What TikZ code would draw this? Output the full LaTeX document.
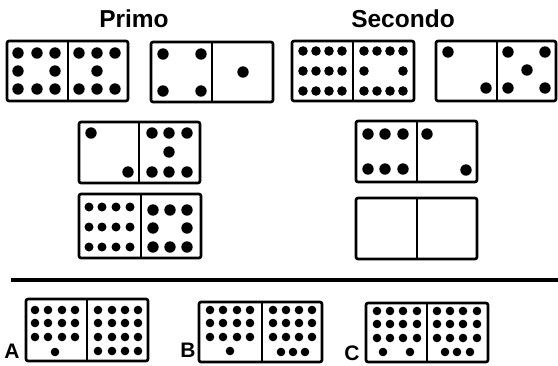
\documentclass[tikz,border=0pt]{standalone}
\usepackage{fontspec}
\setmainfont{Liberation Sans}
\newcommand\mydomino[5]{\draw[frame] (#1,#2) rectangle (#3,#4); \draw[divl] (#5,#2) -- (#5,#4);}
\newcommand\mypips[2]{\foreach \a/\b in {#2} {\fill (\a,\b) circle[radius=#1pt];}}
\begin{document}
\begin{tikzpicture}[x=1pt,y=-1pt,
 frame/.style={draw=black,line width=2.6pt,rounded corners=2pt},
 divl/.style={draw=black,line width=2pt},
 title/.style={font=\bfseries\fontsize{24.5}{24.5}\selectfont,inner sep=0pt},
 lab/.style={font=\bfseries\fontsize{21}{21}\selectfont,inner sep=0pt}]
\useasboundingbox (0,0) rectangle (558,365);
\node[title] (primo) at (134,19) {Primo};
\node[title] (secondo) at (403,19) {Secondo};
% domino 1
\mydomino{7}{41}{128}{101}{68}
\mypips{5.7}{18/53,37/53,55/53,18/71,55/71,18/89,37/89,55/89,
 79/53,97/53,115/53,97/71,79/89,97/89,115/89}
% domino 2
\mydomino{151}{42}{273}{102}{212}
\mypips{5.7}{163/54,201/54,163/91,201/91,243/72}
% domino 3
\mydomino{292}{41}{414}{101}{353}
\mypips{4.8}{303/51,316/51,329/51,342/51,303/71,316/71,329/71,342/71,303/91,316/91,329/91,342/91,
 364/51,377/51,390/51,403/51,364/71,403/71,364/91,377/91,390/91,403/91}
% domino 4
\mydomino{436}{41}{556}{101}{497}
\mypips{5.7}{448/52,486/88,508/52,545/52,527/70,508/88,545/88}
% domino 5
\mydomino{79}{122}{200}{183}{139}
\mypips{5.7}{91/133,128/172,152/133,169/133,187/133,169/152,152/172,169/172,187/172}
% domino 6
\mydomino{79}{194}{201}{258}{141}
\mypips{4.5}{89/207,102/207,116/207,130/207,89/227,102/227,116/227,130/227,89/247,102/247,116/247,130/247}
\mypips{5.7}{153/210,170/210,187/210,153/228,187/228,153/247,170/247,187/247}
% domino 7
\mydomino{356}{121}{477}{182}{417}
\mypips{5.7}{368/134,385/134,403/134,368/169,385/169,403/169,427/134,466/170}
% domino 8
\mydomino{356}{198}{477}{259}{417}
% separator
\coordinate (s1) at (11,280);
\coordinate (s2) at (558,280);
\draw[line width=4.5pt] (s1) -- (s2);
% A
\node[lab] (la) at (12,351) {A};
\mydomino{26}{299}{148}{361}{87}
\mypips{4.3}{35/310,48/310,62/310,75/310,35/323,48/323,62/323,75/323,35/337,48/337,62/337,75/337,55/352,
 98/310,112/310,125/310,138/310,98/323,112/323,125/323,138/323,98/337,112/337,125/337,138/337,98/351,112/351,125/351,138/351}
% B
\node[lab] (lb) at (188,350) {B};
\mydomino{199}{302}{322}{362}{262}
\mypips{4.3}{210/310,223/310,237/310,250/310,210/323,223/323,237/323,250/323,210/337,223/337,237/337,250/337,230/351,
 273/310,286/310,299/310,312/310,273/323,286/323,299/323,312/323,273/337,286/337,299/337,312/337,281/352,293/352,305/352}
% C
\node[lab] (lc) at (352,353) {C};
\mydomino{366}{303}{488}{362}{427}
\mypips{4.3}{377/311,390/311,403/311,417/311,377/324,390/324,403/324,417/324,377/338,390/338,403/338,417/338,383/352,410/352,
 437/311,450/311,463/311,477/311,437/324,450/324,463/324,477/324,437/338,450/338,463/338,477/338,445/352,457/352,470/352}
\end{tikzpicture}
\end{document}
